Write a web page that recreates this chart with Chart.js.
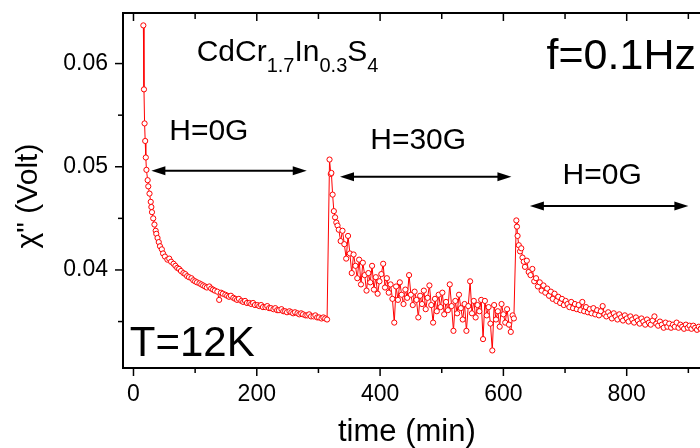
<!DOCTYPE html>
<html>
<head>
<meta charset="utf-8">
<script src="https://cdn.jsdelivr.net/npm/chart.js@4.4.1/dist/chart.umd.min.js"></script>
<style>
  html, body { margin: 0; padding: 0; overflow: hidden; background: #fff; }
  #wrap { width: 760px; height: 448px; }
</style>
</head>
<body>
<div id="wrap"><canvas id="chart"></canvas></div>
<script>
// segment 1 : H = 0G
const timeSeg1 = [16,17,18,19,20,21,23,24,26,28,29,30,32,34,36,37,39,41,43,46,48,51,55,58,61,65,68,71,74,77,81,84,87,90,94,97,100,103,107,110,113,116,119,123,126,129,132,136,139,142,145,149,152,155,158,162,165,168,171,175,178,181,184,188,191,194,197,201,204,207,210,214,217,220,223,227,230,233,236,240,243,246,249,253,256,259,262,266,269,272,275,279,282,285,288,292,295,298,301,305,308,311,314];
const chiSeg1 = [0.0637,0.0575,0.0542,0.0525,0.0509,0.0497,0.0487,0.0481,0.0474,0.0466,0.0461,0.0456,0.0450,0.0444,0.0438,0.0435,0.0431,0.0427,0.0423,0.0420,0.0416,0.0413,0.0410,0.0411,0.0408,0.0406,0.0404,0.0402,0.0401,0.0399,0.0397,0.0396,0.0394,0.0393,0.0392,0.0390,0.0389,0.0388,0.0387,0.0386,0.0385,0.0384,0.0383,0.0384,0.0382,0.0381,0.0380,0.0379,0.0371,0.0378,0.0377,0.0376,0.0375,0.0374,0.0375,0.0373,0.0372,0.0371,0.0372,0.0370,0.0369,0.0370,0.0368,0.0368,0.0367,0.0368,0.0366,0.0366,0.0365,0.0366,0.0364,0.0364,0.0365,0.0363,0.0363,0.0362,0.0363,0.0361,0.0361,0.0362,0.0360,0.0360,0.0359,0.0360,0.0359,0.0358,0.0359,0.0358,0.0357,0.0358,0.0357,0.0356,0.0356,0.0357,0.0355,0.0355,0.0356,0.0354,0.0354,0.0353,0.0354,0.0353,0.0352];

// segment 2 : H = 30G
const timeSeg2 = [318,320,321,323,325,327,329,331,333,336,339,342,345,348,351,354,357,360,363,366,369,372,375,378,381,384,387,390,393,396,399,402,405,408,411,414,417,420,423,426,429,432,435,438,441,444,447,450,453,456,459,462,465,468,471,474,477,480,483,486,489,492,495,498,501,504,507,510,513,516,519,522,525,528,531,534,537,540,543,546,549,552,555,558,561,564,567,570,573,576,579,582,585,588,591,594,597,600,603,606,609,612,615,617];
const chiSeg2 = [0.0507,0.0493,0.0494,0.0473,0.0457,0.0451,0.0446,0.0443,0.0439,0.0428,0.0438,0.0425,0.0411,0.0433,0.0416,0.0397,0.0415,0.0404,0.0392,0.0410,0.0386,0.0407,0.0395,0.0380,0.0397,0.0388,0.0404,0.0381,0.0393,0.0377,0.0389,0.0396,0.0406,0.0383,0.0392,0.0378,0.0386,0.0372,0.0349,0.0384,0.0371,0.0388,0.0376,0.0367,0.0381,0.0373,0.0395,0.0376,0.0366,0.0379,0.0371,0.0354,0.0375,0.0367,0.0380,0.0362,0.0373,0.0385,0.0366,0.0349,0.0372,0.0360,0.0376,0.0364,0.0378,0.0357,0.0369,0.0361,0.0386,0.0365,0.0341,0.0370,0.0358,0.0376,0.0363,0.0352,0.0367,0.0341,0.0365,0.0389,0.0358,0.0370,0.0354,0.0366,0.0360,0.0371,0.0333,0.0370,0.0356,0.0364,0.0348,0.0322,0.0366,0.0352,0.0360,0.0345,0.0367,0.0357,0.0349,0.0362,0.0347,0.0340,0.0356,0.0353];

// segment 3 : H = 0G
const timeSeg3 = [621,622,623,625,627,629,631,633,635,638,641,644,647,650,653,656,659,662,665,668,671,674,677,680,683,686,689,692,695,698,701,704,707,710,713,716,719,722,725,728,731,734,737,740,743,746,749,752,755,758,761,764,767,770,773,776,779,782,785,788,791,794,797,800,803,806,809,812,815,818,821,824,827,830,833,836,839,842,845,848,851,854,857,860,863,866,869,872,875,878,881,884,887,890,893,896,899,902,905,908,911,914,917,920,923,926];
const chiSeg3 = [0.0448,0.0442,0.0433,0.0424,0.0418,0.0421,0.0412,0.0408,0.0403,0.0409,0.0398,0.0395,0.0401,0.0389,0.0392,0.0384,0.0388,0.0380,0.0385,0.0378,0.0382,0.0375,0.0379,0.0372,0.0377,0.0370,0.0374,0.0368,0.0372,0.0366,0.0370,0.0367,0.0364,0.0369,0.0363,0.0367,0.0362,0.0366,0.0361,0.0369,0.0360,0.0364,0.0359,0.0362,0.0358,0.0363,0.0357,0.0361,0.0356,0.0360,0.0365,0.0357,0.0355,0.0359,0.0356,0.0353,0.0358,0.0355,0.0352,0.0357,0.0354,0.0351,0.0356,0.0353,0.0350,0.0355,0.0352,0.0349,0.0354,0.0351,0.0348,0.0353,0.0350,0.0347,0.0352,0.0349,0.0347,0.0351,0.0355,0.0348,0.0346,0.0350,0.0347,0.0344,0.0349,0.0345,0.0348,0.0344,0.0347,0.0345,0.0349,0.0344,0.0347,0.0345,0.0343,0.0347,0.0344,0.0346,0.0343,0.0346,0.0344,0.0342,0.0345,0.0343,0.0345,0.0343];

// ticks
const xTicks = [0, 200, 400, 600, 800];
const xMinorTicks = [100, 300, 500, 700, 900];
const yTicks = [0.04, 0.05, 0.06];
const yMinorTicks = [0.035, 0.045, 0.055];

// field periods (arrows), in time / chi units
const fieldArrows = [
  { from: 29, to: 281, at: 0.04962 },
  { from: 335, to: 613, at: 0.04904 },
  { from: 643, to: 900, at: 0.04620 }
];
const fieldLabels = [
  { text: 'H=0G', t: 58, v: 0.05259 },
  { text: 'H=30G', t: 384, v: 0.05172 },
  { text: 'H=0G', t: 696, v: 0.0483 }
];

const FONT = '"Liberation Sans", Arial, sans-serif';

const points = [];
[[timeSeg1, chiSeg1], [timeSeg2, chiSeg2], [timeSeg3, chiSeg3]].forEach(([ts, vs]) => {
  ts.forEach((t, i) => points.push({ x: t, y: vs[i] }));
});

function drawArrowHead(ctx, x, y, dir){
  ctx.beginPath();
  ctx.moveTo(x, y);
  ctx.lineTo(x - dir * 14, y - 4.5);
  ctx.lineTo(x - dir * 14, y + 4.5);
  ctx.closePath();
  ctx.fill();
}

// draws text with subscripts: parts = [[text, isSub], ...]
function drawSubText(ctx, parts, x, y, size, subSize){
  parts.forEach(([s, sub]) => {
    ctx.font = (sub ? subSize : size) + 'px ' + FONT;
    ctx.fillText(s, x, sub ? y + 11 : y);
    x += ctx.measureText(s).width;
  });
}

const decorations = {
  id: 'decorations',
  afterDraw(chart){
    const { ctx, chartArea: a, scales: { x, y } } = chart;
    ctx.save();
    ctx.strokeStyle = '#000';
    ctx.fillStyle = '#000';

    // frame top / right
    ctx.lineWidth = 2;
    ctx.beginPath();
    ctx.moveTo(a.left - 1, a.top);
    ctx.lineTo(a.right, a.top);
    ctx.lineTo(a.right, a.bottom);
    ctx.stroke();

    // tick marks
    ctx.lineWidth = 1.5;
    const seg = (x1, y1, x2, y2) => { ctx.beginPath(); ctx.moveTo(x1, y1); ctx.lineTo(x2, y2); ctx.stroke(); };
    xTicks.forEach(v => { const p = x.getPixelForValue(v); seg(p, a.bottom, p, a.bottom + 8); seg(p, a.top, p, a.top + 8); });
    xMinorTicks.forEach(v => { const p = x.getPixelForValue(v); seg(p, a.bottom, p, a.bottom + 5); seg(p, a.top, p, a.top + 6); });
    yTicks.forEach(v => { const p = y.getPixelForValue(v); seg(a.left - 8, p, a.left, p); });
    yMinorTicks.forEach(v => { const p = y.getPixelForValue(v); seg(a.left - 5, p, a.left, p); });

    // field arrows
    ctx.lineWidth = 2;
    fieldArrows.forEach(ar => {
      const x1 = x.getPixelForValue(ar.from), x2 = x.getPixelForValue(ar.to), py = y.getPixelForValue(ar.at);
      seg(x1 + 8, py, x2 - 8, py);
      drawArrowHead(ctx, x1, py, -1);
      drawArrowHead(ctx, x2, py, 1);
    });

    ctx.textAlign = 'left';
    ctx.textBaseline = 'alphabetic';
    ctx.font = '30px ' + FONT;
    fieldLabels.forEach(l => ctx.fillText(l.text, x.getPixelForValue(l.t), y.getPixelForValue(l.v)));

    drawSubText(ctx, [['CdCr', false], ['1.7', true], ['In', false], ['0.3', true], ['S', false], ['4', true]],
      x.getPixelForValue(102.5), y.getPixelForValue(0.06028), 30, 20);

    ctx.font = '43px ' + FONT;
    ctx.fillText('f=0.1Hz', x.getPixelForValue(670), y.getPixelForValue(0.05947));

    ctx.font = '42px ' + FONT;
    ctx.fillText('T=12K', x.getPixelForValue(-6), y.getPixelForValue(0.03169));

    // axis titles
    ctx.font = '31px ' + FONT;
    ctx.fillText('time (min)', 338, 441);
    ctx.save();
    ctx.translate(37, 196);
    ctx.rotate(-Math.PI / 2);
    ctx.textAlign = 'center';
    ctx.font = '30px ' + FONT;
    ctx.fillText('\u03C7" (Volt)', 0, 0);
    ctx.restore();

    ctx.restore();
  }
};

new Chart(document.getElementById('chart'), {
  type: 'line',
  data: {
    datasets: [{
      data: points,
      borderColor: '#ff0000',
      borderWidth: 1,
      pointRadius: 2.6,
      pointBorderWidth: 1,
      pointBackgroundColor: '#ffffff',
      pointBorderColor: '#ff0000',
      tension: 0
    }]
  },
  options: {
    responsive: true,
    maintainAspectRatio: false,
    animation: false,
    layout: { padding: { top: 13, right: 10, left: 0, bottom: 0 } },
    plugins: { legend: { display: false }, tooltip: { enabled: false } },
    scales: {
      x: {
        type: 'linear',
        min: -17,
        max: 1000,
        afterFit: s => { s.height = 80; s.paddingLeft = 0; s.paddingRight = 0; },
        afterBuildTicks: s => { s.ticks = xTicks.map(v => ({ value: v })); },
        grid: { display: false, drawTicks: false },
        border: { display: true, color: '#000', width: 2 },
        ticks: { color: '#000', padding: 13, maxRotation: 0, font: { family: FONT, size: 23 }, callback: v => String(v) }
      },
      y: {
        min: 0.0305,
        max: 0.0649,
        afterFit: s => { s.width = 123; s.paddingTop = 0; s.paddingBottom = 0; },
        afterBuildTicks: s => { s.ticks = yTicks.map(v => ({ value: v })); },
        grid: { display: false, drawTicks: false },
        border: { display: true, color: '#000', width: 2 },
        ticks: { color: '#000', padding: 15, font: { family: FONT, size: 23 }, callback: v => v.toFixed(2) }
      }
    }
  },
  plugins: [decorations]
});
</script>
</body>
</html>
